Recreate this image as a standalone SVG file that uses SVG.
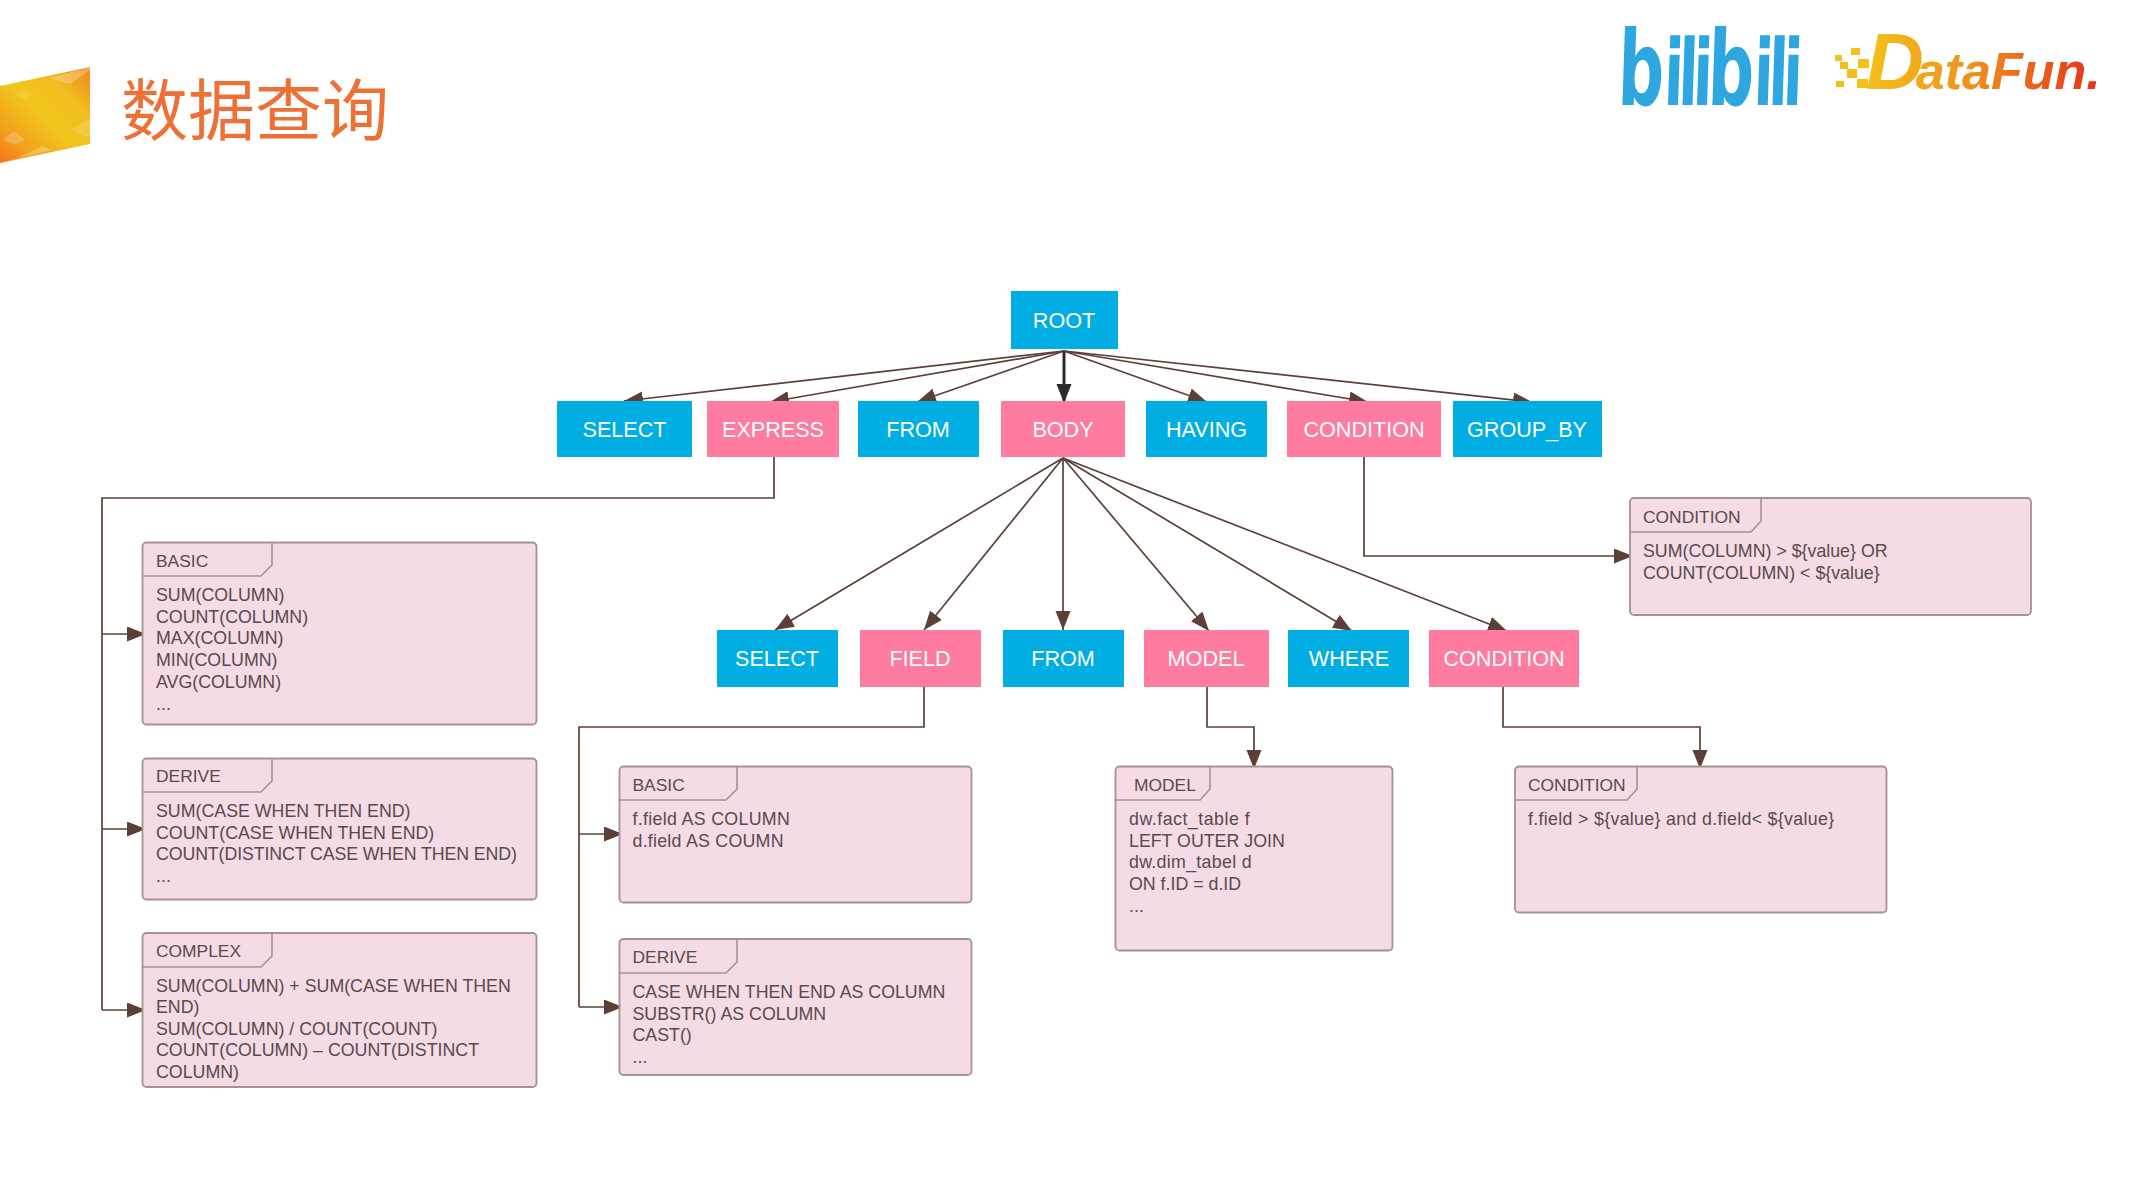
<svg xmlns="http://www.w3.org/2000/svg" width="2133" height="1200" viewBox="0 0 2133 1200">
<style>
text{font-family:"Liberation Sans",Arial,sans-serif}
.n{font-size:21.6px;fill:#fff;text-anchor:middle}
.b{fill:#00aee3}.p{fill:#ff7ba0}
.box{fill:#f4dbe5;stroke:#a6928f;stroke-width:1.8}
.tab{fill:none;stroke:#a6928f;stroke-width:1.6}
.t{font-size:17.8px;fill:#5a4a4c}
.h{font-size:17.4px;fill:#5a4a4c}
.c{fill:none;stroke:#5c4038;stroke-width:1.7}
</style>
<defs>
<marker id="a" markerUnits="userSpaceOnUse" markerWidth="21" markerHeight="16" refX="19" refY="7.5" orient="auto"><path d="M0,0L19,7.500L0,15Z" fill="#5c4038"/></marker>
<marker id="d" markerUnits="userSpaceOnUse" markerWidth="21" markerHeight="16" refX="19" refY="7.5" orient="auto"><path d="M0,0L19,7.500L0,15Z" fill="#2f2a2a"/></marker>
<linearGradient id="g" gradientUnits="userSpaceOnUse" x1="-8" y1="170" x2="95" y2="62"><stop offset="0" stop-color="#f7620f"/><stop offset=".25" stop-color="#f2a01c"/><stop offset=".5" stop-color="#f1c51c"/><stop offset=".72" stop-color="#f0bd1e"/><stop offset="1" stop-color="#ee7a22"/></linearGradient>
<linearGradient id="df" gradientUnits="userSpaceOnUse" x1="1869" y1="0" x2="2100" y2="0"><stop offset="0" stop-color="#f4bf1a"/><stop offset=".45" stop-color="#f0901c"/><stop offset="1" stop-color="#e4301a"/></linearGradient>
</defs>
<rect width="2133" height="1200" fill="#fff"/>
<g id="banner">
<polygon points="0,86 90,67 90,144 0,163" fill="url(#g)"/>
<polygon points="50,78 70,84 90,70 90,67" fill="#fff" opacity=".25"/>
<polygon points="15,94 24,90 33,94 24,99" fill="#fff" opacity=".15"/>
<polygon points="3,140 14,131 25,140 14,145" fill="#fff" opacity=".2"/>
<polygon points="18,158 42,146 52,150 0,163" fill="#fff" opacity=".25"/>
<polygon points="70,130 90,118 90,138" fill="#fff" opacity=".15"/>
<text x="121" y="135" font-size="67" fill="#ee7034" style="font-family:'Noto Sans CJK SC','Liberation Sans',sans-serif">数据查询</text>
</g>
<g id="logos">
<text transform="translate(1617,105) scale(.62,1) skewX(-3)" font-weight="700" fill="#2ea7e0" font-size="92" style="font-family:'DejaVu Sans',sans-serif"><tspan font-size="104">b</tspan><tspan letter-spacing="-8">ili</tspan><tspan font-size="104">b</tspan><tspan letter-spacing="-8">ili</tspan></text>
<g fill="#f4c01a"><rect x="1835" y="55" width="7" height="6"/><rect x="1840" y="62" width="8" height="7"/><rect x="1851" y="48" width="9" height="7"/><rect x="1858" y="59" width="11" height="9"/><rect x="1847" y="69" width="10" height="9"/><rect x="1836" y="81" width="8" height="6"/><rect x="1857" y="79" width="11" height="9"/></g>
<text x="1866" y="89" font-weight="700" font-style="italic" fill="url(#df)" font-size="52" style="font-family:'Liberation Sans',sans-serif"><tspan font-size="80">D</tspan><tspan dx="-8">ataFun.</tspan></text>
</g>
<g id="connectors">
<path class="c" marker-end="url(#a)" d="M1064,351L624,401"/>
<path class="c" marker-end="url(#a)" d="M1064,351L770,402"/>
<path class="c" marker-end="url(#a)" d="M1064,351L917,402"/>
<path d="M1064,351L1064,403" fill="none" stroke="#2f2a2a" stroke-width="3" marker-end="url(#d)"/>
<path class="c" marker-end="url(#a)" d="M1064,351L1207,402"/>
<path class="c" marker-end="url(#a)" d="M1064,351L1368,402"/>
<path class="c" marker-end="url(#a)" d="M1064,351L1532,402"/>
<path class="c" marker-end="url(#a)" d="M1063,458L775,630"/>
<path class="c" marker-end="url(#a)" d="M1063,458L924,630"/>
<path class="c" marker-end="url(#a)" d="M1063,458L1063,630"/>
<path class="c" marker-end="url(#a)" d="M1063,458L1209,631"/>
<path class="c" marker-end="url(#a)" d="M1063,458L1352,631"/>
<path class="c" marker-end="url(#a)" d="M1063,458L1507,631"/>
<path class="c" d="M774,457V498H102V1010"/>
<path class="c" marker-end="url(#a)" d="M102,634H146"/>
<path class="c" marker-end="url(#a)" d="M102,829H146"/>
<path class="c" marker-end="url(#a)" d="M102,1010H146"/>
<path class="c" marker-end="url(#a)" d="M1364,457V556H1633"/>
<path class="c" d="M924,687V727H579V1007"/>
<path class="c" marker-end="url(#a)" d="M579,834H623"/>
<path class="c" marker-end="url(#a)" d="M579,1007H623"/>
<path class="c" marker-end="url(#a)" d="M1207,687V727H1254V769"/>
<path class="c" marker-end="url(#a)" d="M1503,687V727H1700V769"/>
</g>
<g id="n-root"><rect class="b" x="1011" y="291" width="107" height="58"/><text class="n" x="1064" y="328">ROOT</text></g>
<g id="n-select1"><rect class="b" x="557" y="401" width="135" height="56"/><text class="n" x="624.5" y="437">SELECT</text></g>
<g id="n-express"><rect class="p" x="707" y="401" width="132" height="56"/><text class="n" x="773" y="437">EXPRESS</text></g>
<g id="n-from1"><rect class="b" x="858" y="401" width="121" height="56"/><text class="n" x="918" y="437">FROM</text></g>
<g id="n-body"><rect class="p" x="1001" y="401" width="124" height="56"/><text class="n" x="1063" y="437">BODY</text></g>
<g id="n-having"><rect class="b" x="1146" y="401" width="121" height="56"/><text class="n" x="1206.500" y="437">HAVING</text></g>
<g id="n-condition1"><rect class="p" x="1287" y="401" width="154" height="56"/><text class="n" x="1364" y="437">CONDITION</text></g>
<g id="n-groupby"><rect class="b" x="1453" y="401" width="149" height="56"/><text class="n" x="1527" y="437">GROUP_BY</text></g>
<g id="n-select2"><rect class="b" x="717" y="630" width="121" height="57"/><text class="n" x="777" y="666">SELECT</text></g>
<g id="n-field"><rect class="p" x="860" y="630" width="121" height="57"/><text class="n" x="920" y="666">FIELD</text></g>
<g id="n-from2"><rect class="b" x="1003" y="630" width="121" height="57"/><text class="n" x="1063" y="666">FROM</text></g>
<g id="n-model"><rect class="p" x="1144" y="630" width="125" height="57"/><text class="n" x="1206" y="666">MODEL</text></g>
<g id="n-where"><rect class="b" x="1288" y="630" width="121" height="57"/><text class="n" x="1349" y="666">WHERE</text></g>
<g id="n-condition2"><rect class="p" x="1429" y="630" width="150" height="57"/><text class="n" x="1504" y="666">CONDITION</text></g>
<g id="b-basic"><rect class="box" x="142.5" y="542.5" width="394" height="182" rx="4"/><path class="tab" d="M142.5,576H261L272,565V542.5"/><text class="h" x="156" y="567">BASIC</text><text class="t"><tspan x="156" y="601">SUM(COLUMN)</tspan><tspan x="156" y="622.7">COUNT(COLUMN)</tspan><tspan x="156" y="644.4">MAX(COLUMN)</tspan><tspan x="156" y="666.1">MIN(COLUMN)</tspan><tspan x="156" y="687.8">AVG(COLUMN)</tspan><tspan x="156" y="709.5">...</tspan></text></g>
<g id="b-derive"><rect class="box" x="142.5" y="758.5" width="394" height="141" rx="4"/><path class="tab" d="M142.5,792H261L272,781V758.5"/><text class="h" x="156" y="782">DERIVE</text><text class="t"><tspan x="156" y="817">SUM(CASE WHEN THEN END)</tspan><tspan x="156" y="838.7">COUNT(CASE WHEN THEN END)</tspan><tspan x="156" y="860.4" letter-spacing="-.12">COUNT(DISTINCT CASE WHEN THEN END)</tspan><tspan x="156" y="882.1">...</tspan></text></g>
<g id="b-complex"><rect class="box" x="142.5" y="933" width="394" height="154" rx="4"/><path class="tab" d="M142.5,967H261L272,956V933"/><text class="h" x="156" y="957">COMPLEX</text><text class="t"><tspan x="156" y="991.5">SUM(COLUMN) + SUM(CASE WHEN THEN</tspan><tspan x="156" y="1013">END)</tspan><tspan x="156" y="1034.7">SUM(COLUMN) / COUNT(COUNT)</tspan><tspan x="156" y="1056.4">COUNT(COLUMN) – COUNT(DISTINCT</tspan><tspan x="156" y="1078">COLUMN)</tspan></text></g>
<g id="b-cond1"><rect class="box" x="1630" y="498" width="401" height="117" rx="4"/><path class="tab" d="M1630,532H1751L1761,521V498"/><text class="h" x="1643" y="523">CONDITION</text><text class="t"><tspan x="1643" y="557">SUM(COLUMN) &gt; ${value} OR</tspan><tspan x="1643" y="578.7">COUNT(COLUMN) &lt; ${value}</tspan></text></g>
<g id="b-basic2"><rect class="box" x="619.5" y="766.5" width="352" height="136" rx="4"/><path class="tab" d="M619.5,800H726L737,789V766.5"/><text class="h" x="632.5" y="791">BASIC</text><text class="t"><tspan x="632.5" y="825" letter-spacing=".32">f.field AS COLUMN</tspan><tspan x="632.5" y="846.7" letter-spacing=".25">d.field AS COUMN</tspan></text></g>
<g id="b-derive2"><rect class="box" x="619.5" y="939" width="352" height="136" rx="4"/><path class="tab" d="M619.5,973H726L737,962V939"/><text class="h" x="632.5" y="963">DERIVE</text><text class="t"><tspan x="632.5" y="998">CASE WHEN THEN END AS COLUMN</tspan><tspan x="632.5" y="1019.7">SUBSTR() AS COLUMN</tspan><tspan x="632.5" y="1041.4">CAST()</tspan><tspan x="632.5" y="1063.1">...</tspan></text></g>
<g id="b-model"><rect class="box" x="1115.5" y="766.5" width="277" height="184" rx="4"/><path class="tab" d="M1115.5,800H1200L1210,789V766.5"/><text class="h" x="1134" y="791">MODEL</text><text class="t"><tspan x="1129" y="825" letter-spacing=".5">dw.fact_table f</tspan><tspan x="1129" y="846.7">LEFT OUTER JOIN</tspan><tspan x="1129" y="868.4" letter-spacing=".3">dw.dim_tabel d</tspan><tspan x="1129" y="890.1">ON f.ID = d.ID</tspan><tspan x="1129" y="911.8">...</tspan></text></g>
<g id="b-cond2"><rect class="box" x="1515" y="766.5" width="371.500" height="146" rx="4"/><path class="tab" d="M1515,800H1627L1637,789V766.5"/><text class="h" x="1528" y="791">CONDITION</text><text class="t"><tspan x="1528" y="825" letter-spacing=".32">f.field &gt; ${value} and d.field&lt; ${value}</tspan></text></g>
</svg>
